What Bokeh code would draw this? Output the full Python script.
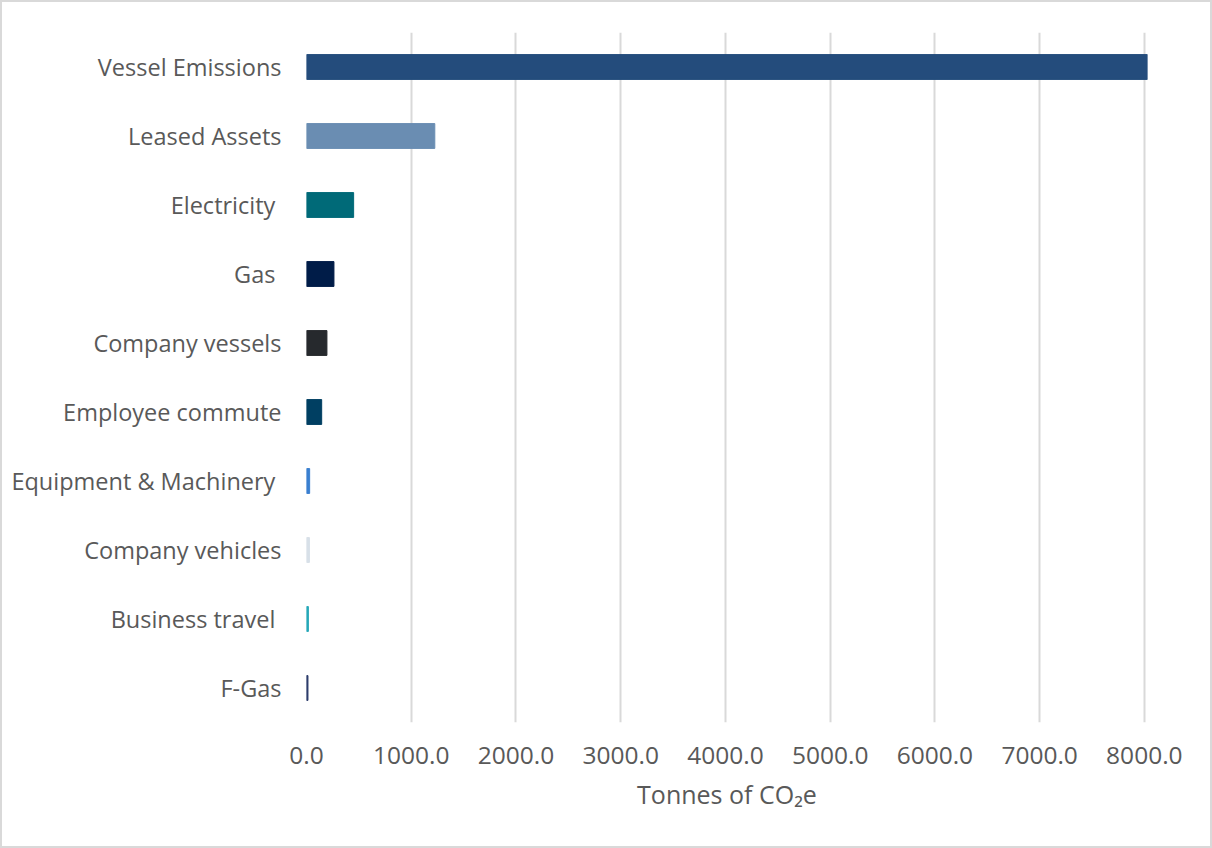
from bokeh.plotting import figure
from bokeh.models import FactorRange, FixedTicker, ColumnDataSource, CustomJSTickFormatter
from bokeh.embed import file_html
from bokeh.resources import INLINE

categories = ["Vessel Emissions", "Leased Assets", "Electricity\u00a0", "Gas\u00a0", "Company vessels",
              "Employee commute", "Equipment & Machinery\u00a0", "Company vehicles", "Business travel\u00a0", "F-Gas"]
values = [8030, 1225, 450, 262, 195, 145, 30, 28, 18, 14]
colors = ["#244c7c", "#6a8db2", "#006a78", "#001c48", "#26292d",
          "#003f62", "#3a7fd0", "#d8e0e8", "#26a8b8", "#2a3a6a"]
x_ticks = [0, 1000, 2000, 3000, 4000, 5000, 6000, 7000, 8000]

FONT = "Open Sans"
TXT = "#595959"

src = ColumnDataSource(dict(cat=categories, val=values, color=colors))

p = figure(width=1212, height=848, output_backend="svg", toolbar_location=None,
           y_range=FactorRange(factors=list(reversed(categories)), range_padding=0),
           x_range=(0, 8030),
           min_border_left=304, min_border_right=67, min_border_top=30, min_border_bottom=128)
p.hbar(y="cat", right="val", left=0, height=0.36, color="color", source=src)

p.outline_line_color = None
p.ygrid.grid_line_color = None
p.xgrid.grid_line_color = "#d9d9d9"
p.xgrid.grid_line_width = 2

p.xaxis.ticker = FixedTicker(ticks=x_ticks)
p.xaxis.formatter = CustomJSTickFormatter(code="return tick.toFixed(1);")
p.xaxis.axis_line_color = None
p.xaxis.major_tick_line_color = None
p.xaxis.minor_tick_line_color = None
p.xaxis.major_label_standoff = 18
p.xaxis.major_label_text_font = FONT
p.xaxis.major_label_text_font_size = "24.5px"
p.xaxis.major_label_text_color = TXT
p.xaxis.axis_label = "Tonnes of CO\u2082e"
p.xaxis.axis_label_text_font = FONT
p.xaxis.axis_label_text_font_size = "25px"
p.xaxis.axis_label_text_font_style = "normal"
p.xaxis.axis_label_text_color = TXT
p.xaxis.axis_label_standoff = 10

p.yaxis.axis_line_color = None
p.yaxis.major_tick_line_color = None
p.yaxis.major_label_standoff = 19
p.yaxis.major_label_text_font = FONT
p.yaxis.major_label_text_font_size = "23.5px"
p.yaxis.major_label_text_color = TXT

p.styles = {"border": "2px solid #d9d9d9", "box-sizing": "border-box"}

open("out.html", "w").write(file_html(p, INLINE))
